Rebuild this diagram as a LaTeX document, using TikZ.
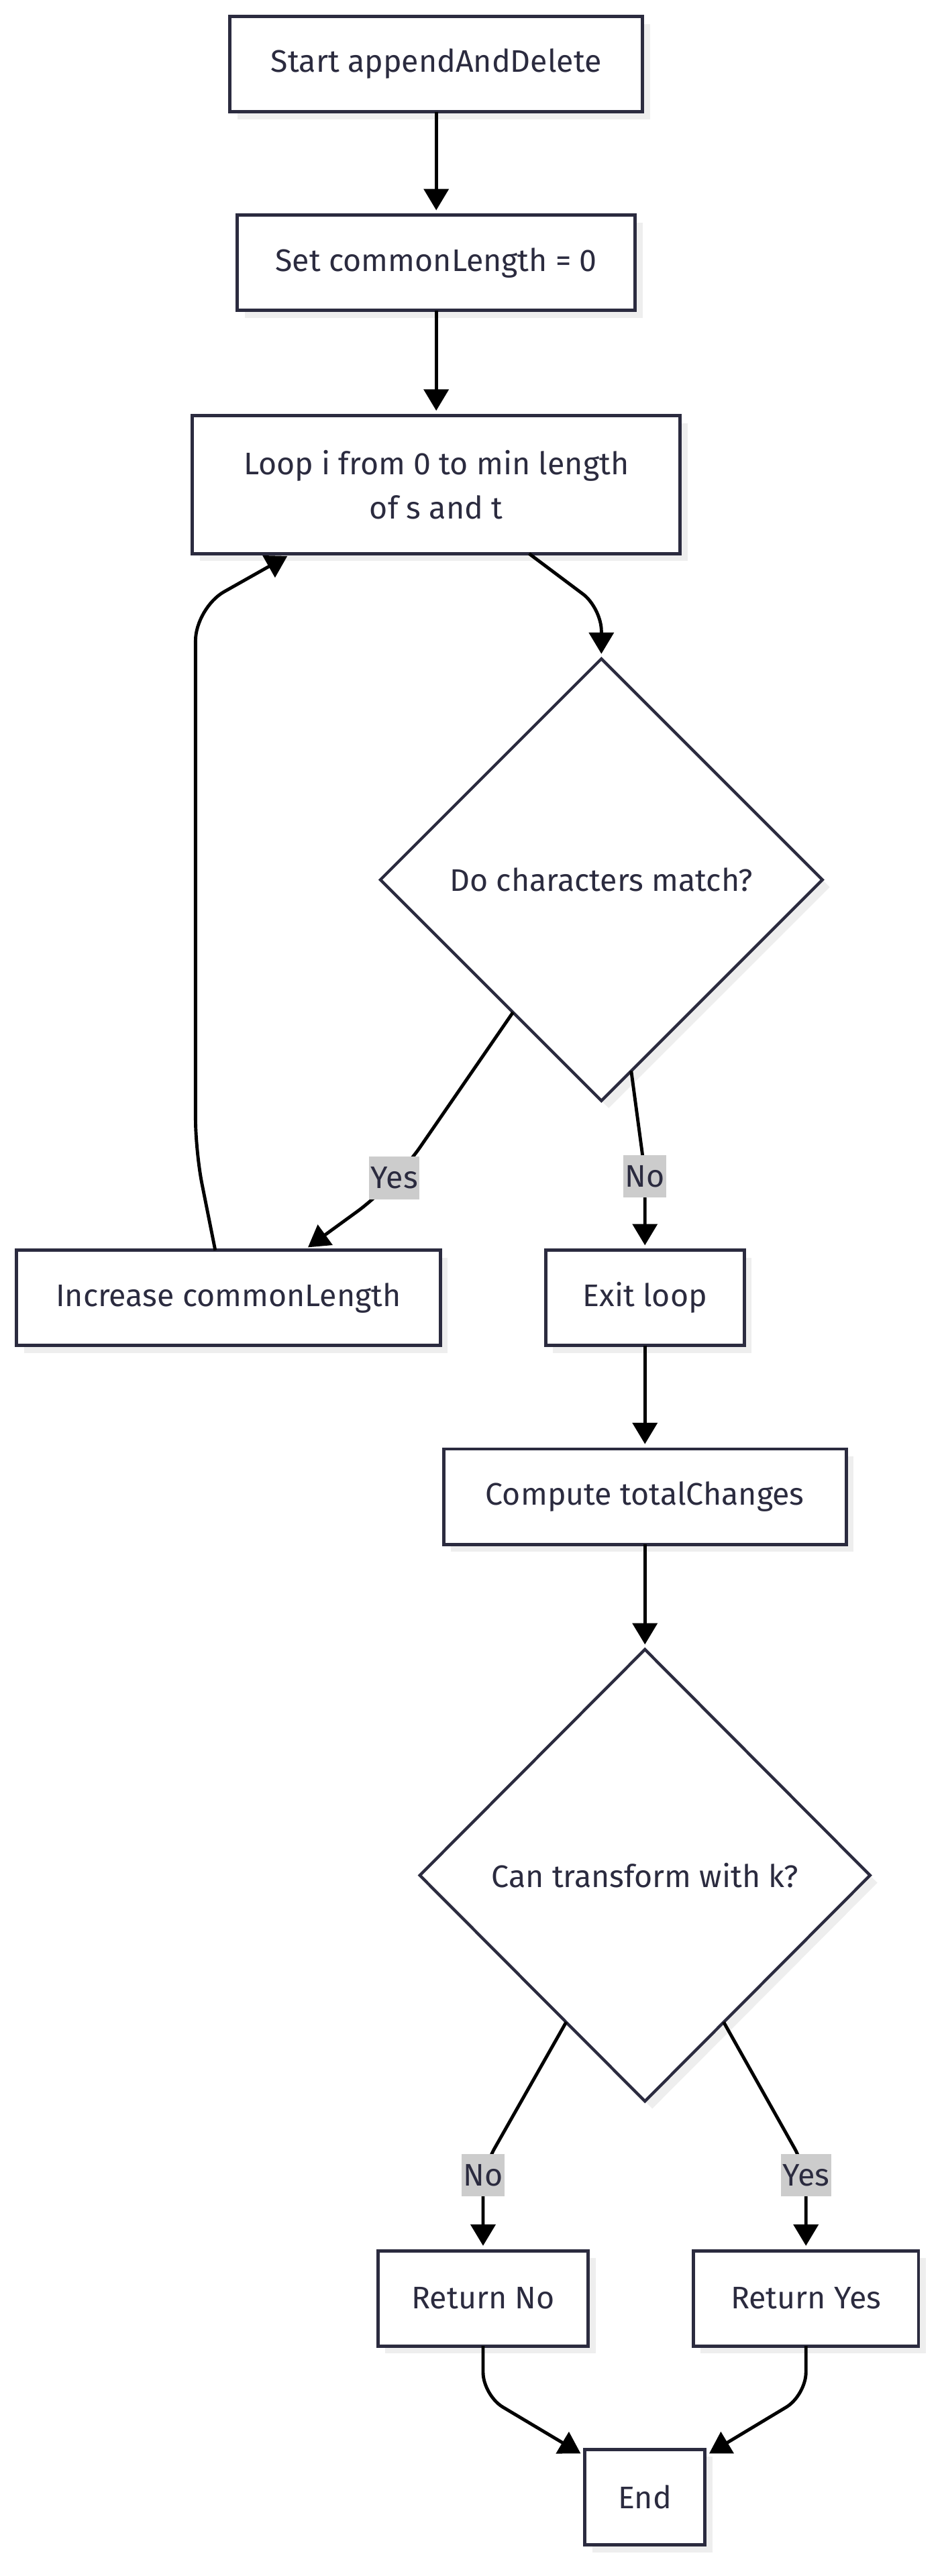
\documentclass[tikz,border=0pt]{standalone}
\usepackage{fontspec}
\setmainfont{Fira Sans}
\usetikzlibrary{shapes.geometric,arrows.meta,positioning,calc,shadows}
\definecolor{inkline}{HTML}{2B2B3F}
\definecolor{inktext}{HTML}{2B2B3F}
\definecolor{lblgray}{HTML}{CCCCCC}
\definecolor{shadegray}{HTML}{EEEEEE}
\newcommand{\flowfont}{\fontsize{19pt}{27pt}\selectfont}

\begin{document}
\begin{tikzpicture}[
    proc/.style={rectangle, draw=inkline, line width=2pt, fill=white, minimum width=#1, minimum height=58pt, inner xsep=0pt, outer sep=0pt, font=\flowfont, text=inktext, general shadow={fill=shadegray, shadow xshift=4.5pt, shadow yshift=-4.5pt}},
    proc/.default=120pt,
    decision/.style={diamond, aspect=1, draw=inkline, line width=1.8pt, fill=white, minimum width=269pt, minimum height=269pt, inner sep=0pt, outer sep=0pt, font=\flowfont, text=inktext, general shadow={fill=shadegray, shadow xshift=4.5pt, shadow yshift=-4.5pt}},
    flow/.style={-{Triangle[length=13pt,width=15pt]}, line width=2pt, shorten >=3pt, rounded corners=14pt},
    lbl/.style={rectangle, sharp corners, fill=lblgray, text=inktext, font=\flowfont, inner xsep=1pt, inner ysep=0pt, minimum height=26pt},
    node distance=63pt
]
    \useasboundingbox (-265.5pt,-1529pt) rectangle (307.5pt,39pt);

    % Setup
    \node[proc=251pt] (start) {Start appendAndDelete};
    \node[proc=242pt, below=63pt of start] (setcl) {Set commonLength = 0};
    \node[proc=297pt, minimum height=84pt, align=center, below=64pt of setcl] (loop) {Loop i from 0 to min length\\of s and t};

    % Loop body
    \node[decision, below=64pt of loop, xshift=100.5pt] (match) {Do characters match?};
    \node[proc=121pt, below=91pt of match, xshift=26.5pt] (exit) {Exit loop};
    \node[proc=258pt, left=64pt of exit] (inc) {Increase commonLength};

    % Result
    \node[proc=245pt, below=63pt of exit] (compute) {Compute totalChanges};
    \node[decision, minimum width=274pt, minimum height=275pt, below=64pt of compute] (can) {Can transform with k?};
    \node[proc=128pt, below=91pt of can, xshift=-98.5pt] (retno) {Return No};
    \node[proc=137pt, below=91pt of can, xshift=98pt] (retyes) {Return Yes};
    \node[proc=73pt, below=212pt of can] (done) {End};

    % Connectors
    \draw[flow] (start) -- (setcl);
    \draw[flow] (setcl) -- (loop);
    \draw[flow] ([xshift=56.5pt]loop.south) -- ([yshift=31pt]match.north) -- (match.north);
    \draw[flow, rounded corners=28pt] ($(match.west)!0.6!(match.south)$) -- ([shift={(101pt,40pt)}]inc.north) node[lbl, yshift=4pt] {Yes} -- ([xshift=46pt]inc.north);
    \draw[flow] ($(match.south)!0.135!(match.east)$) -- ([yshift=47pt]exit.north) node[lbl, yshift=-2pt] {No} -- (exit.north);
    \draw[flow, rounded corners=20pt] ([xshift=-8pt]inc.north) -- ([shift={(-20pt,60pt)}]inc.north) -- ([shift={(-146.5pt,-33pt)}]loop.south) -- ([xshift=-88pt]loop.south);
    \draw[flow] (exit) -- (compute);
    \draw[flow] (compute) -- (can);
    \draw[flow] ($(can.west)!0.65!(can.south)$) -- ([yshift=50pt]retno.north) node[lbl, yshift=-4pt] {No} -- (retno.north);
    \draw[flow] ($(can.south)!0.35!(can.east)$) -- ([yshift=50pt]retyes.north) node[lbl, yshift=-4pt] {Yes} -- (retyes.north);
    \draw[flow] (retno.south) -- ([yshift=-30pt]retno.south) -- ([yshift=-4pt]done.north west);
    \draw[flow] (retyes.south) -- ([yshift=-30pt]retyes.south) -- ([yshift=-4pt]done.north east);

\end{tikzpicture}
\end{document}
